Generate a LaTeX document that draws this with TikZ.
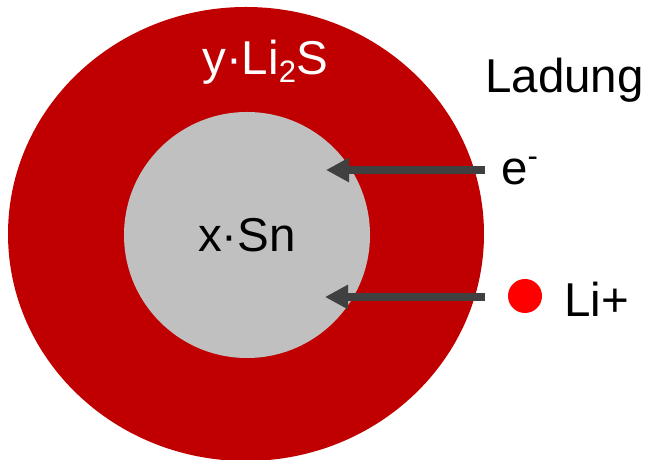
\documentclass[tikz,border=0pt]{standalone}
\usepackage{fontspec}
\setmainfont{Liberation Sans}
\usetikzlibrary{arrows.meta,shapes.geometric}
\definecolor{ShellRed}{RGB}{192,0,0}
\definecolor{CoreGray}{RGB}{192,192,192}
\definecolor{ArrowGray}{RGB}{64,64,64}
\definecolor{IonRed}{RGB}{255,0,0}

\begin{document}
\begin{tikzpicture}[
x=1pt,y=1pt,
lbl/.style={font=\fontsize{47.5}{50}\selectfont,inner sep=0pt},
shell/.style={ellipse,fill=ShellRed,inner sep=0pt,minimum width=476pt,minimum height=454pt},
core/.style={circle,fill=CoreGray,inner sep=0pt,minimum size=246pt,font=\fontsize{47.5}{50}\selectfont},
ion/.style={circle,fill=IonRed,inner sep=0pt,minimum size=34pt},
arrow/.style={-{Triangle[length=23pt,width=23pt]},line width=8pt,draw=ArrowGray}
]
\useasboundingbox (0,0) rectangle (646,460);
\clip (0,0) rectangle (646,460);
% particle: Li2S shell round a Sn core
\node[shell] (shell) at (246,226) {};
\node[core] (core) at (247,225) {x·Sn};
\node[lbl,anchor=base,text=white] (shellname) at (265,385)
  {y·Li{\fontsize{31}{31}\selectfont\raisebox{-8pt}{2}}S};
% charge carriers
\node[lbl,anchor=base west] (ladung) at (485,367) {Ladung};
\node[lbl,anchor=base west] (elec) at (501,275)
  {e{\fontsize{31}{31}\selectfont\raisebox{18pt}{-}}};
\node[ion] (li) at (525,164) {};
\node[lbl,anchor=base west] (liname) at (564,143) {Li+};
\coordinate (eTail) at (485,290);
\coordinate (eTip) at (326,290);
\coordinate (liTail) at (485,163);
\coordinate (liTip) at (325,163);
\draw[arrow] (eTail) -- (eTip);
\draw[arrow] (liTail) -- (liTip);
\end{tikzpicture}
\end{document}
